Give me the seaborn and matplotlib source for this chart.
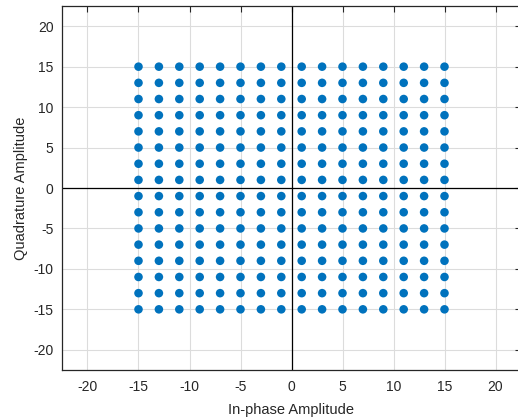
import numpy as np
import pandas as pd
import matplotlib
matplotlib.use("Agg")
import matplotlib.pyplot as plt
import seaborn as sns

levels = [-15, -13, -11, -9, -7, -5, -3, -1, 1, 3, 5, 7, 9, 11, 13, 15]
xticks = [-20, -15, -10, -5, 0, 5, 10, 15, 20]
yticks = [-20, -15, -10, -5, 0, 5, 10, 15, 20]

I, Q = np.meshgrid(levels, levels)
df = pd.DataFrame({"I": I.ravel(), "Q": Q.ravel()})

sns.set_style("white")
plt.rcParams['font.family'] = ['Liberation Sans', 'DejaVu Sans']
plt.rcParams['axes.unicode_minus'] = False

fig = plt.figure(figsize=(5.18, 4.18), dpi=100)
ax = fig.add_axes([62/518, 48/418, 459/518, 364/418])

ax.grid(True, color="#dcdcdc", linewidth=0.8)
ax.set_axisbelow(True)
ax.axhline(0, color="black", linewidth=0.9, zorder=1)
ax.axvline(0, color="black", linewidth=0.9, zorder=1)

sns.scatterplot(data=df, x="I", y="Q", ax=ax, color="#0072BD", s=38,
                edgecolor="none", zorder=3, legend=False)

ax.set_xlim(-22.5, 22.5)
ax.set_ylim(-22.5, 22.5)
ax.set_xticks(xticks)
ax.set_yticks(yticks)
ax.tick_params(direction="in", length=4, width=0.8, colors="#262626",
               labelsize=10, top=True, right=True, labelcolor="#262626")
ax.tick_params(axis="x", pad=7)
ax.tick_params(axis="y", pad=6)
for s in ax.spines.values():
    s.set_color("#262626")
    s.set_linewidth(0.9)

ax.set_xlabel("In-phase Amplitude", fontsize=10.5, color="#262626", labelpad=7)
ax.set_ylabel("Quadrature Amplitude", fontsize=10.5, color="#262626", labelpad=4)

fig.savefig("out.png", dpi=100)
